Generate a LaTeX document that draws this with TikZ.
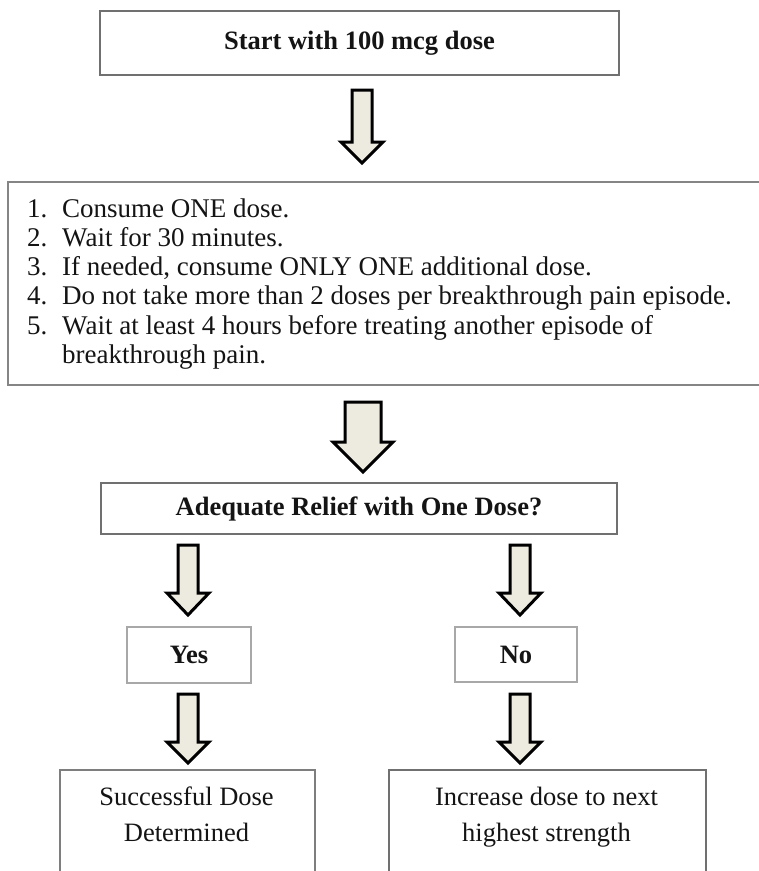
\documentclass[tikz,border=0pt]{standalone}
\usepackage{fontspec}
\setmainfont{Liberation Serif}
\definecolor{boxgray}{HTML}{707070}
\definecolor{lightgray}{HTML}{A8A8A8}
\definecolor{arrowfill}{HTML}{EDEADF}
\definecolor{inkcol}{HTML}{141414}
\newcommand\blockarr[6]{%
  \draw[blockarrow] (#1-#5,#2) -- (#1+#5,#2) -- (#1+#5,#3) -- (#1+#6,#3) -- (#1,#4) -- (#1-#6,#3) -- (#1-#5,#3) -- cycle;}
\begin{document}
\begin{tikzpicture}[x=1pt,y=-1pt,
  box/.style={draw=boxgray, line width=2pt, inner sep=0pt, align=center, text=inkcol},
  lightbox/.style={draw=lightgray, line width=1.6pt, inner sep=0pt, align=center, text=inkcol},
  txt/.style={inner sep=0pt, text=inkcol, font=\fontsize{27}{29.3}\selectfont},
  blockarrow/.style={fill=arrowfill, draw=black, line width=3pt, line join=miter, miter limit=10}]
\useasboundingbox (0,0) rectangle (759,871);
\clip (0,0) rectangle (759,871);
% box 1
\node[box, minimum width=519pt, minimum height=64pt, font=\fontsize{26.5}{30}\selectfont\bfseries] (start) at (359.5,43) {Start with 100 mcg dose};
\blockarr{362}{90}{142}{163}{10}{21}
% box 2
\node[box, draw=boxgray!85, minimum width=763pt, minimum height=203pt, anchor=north west] (steps) at (7,181) {};
\node[txt, anchor=base west] (list) at (27,217) {\begin{tabular}[t]{@{}p{35pt}@{}l@{}}
1. & Consume ONE dose.\\
2. & Wait for 30 minutes.\\
3. & If needed, consume ONLY ONE additional dose.\\
4. & Do not take more than 2 doses per breakthrough pain episode.\\
5. & Wait at least 4 hours before treating another episode of\\
   & breakthrough pain.
\end{tabular}};
\blockarr{363}{402}{442}{472}{18}{30}
% box 3
\node[box, minimum width=516pt, minimum height=51pt, font=\fontsize{26.5}{30}\selectfont\bfseries] (relief) at (359,508.5) {Adequate Relief with One Dose?};
\blockarr{188}{545}{593}{615}{10}{21}
\blockarr{520}{545}{593}{615}{10}{21}
% yes / no
\node[lightbox, minimum width=124pt, minimum height=56pt, font=\fontsize{26.5}{30}\selectfont\bfseries] (yes) at (189,655) {Yes};
\node[lightbox, minimum width=122pt, minimum height=55pt, font=\fontsize{26.5}{30}\selectfont\bfseries] (no) at (516,654.5) {No};
\blockarr{188}{694}{742}{763}{10}{21}
\blockarr{520}{694}{742}{763}{10}{21}
% bottom boxes
\node[box, draw=boxgray!90, minimum width=255pt, minimum height=140pt, anchor=north west] (success) at (59,769) {};
\node[box, minimum width=317pt, minimum height=140pt, anchor=north west] (increase) at (388,769) {};
\node[txt, anchor=base] (successtxt) at (186.5,805) {\fontsize{26.5}{36}\selectfont\begin{tabular}[t]{@{}c@{}}Successful Dose\\Determined\end{tabular}};
\node[txt, anchor=base] (increasetxt) at (546.5,805) {\fontsize{26.5}{36}\selectfont\begin{tabular}[t]{@{}c@{}}Increase dose to next\\highest strength\end{tabular}};
\end{tikzpicture}
\end{document}
